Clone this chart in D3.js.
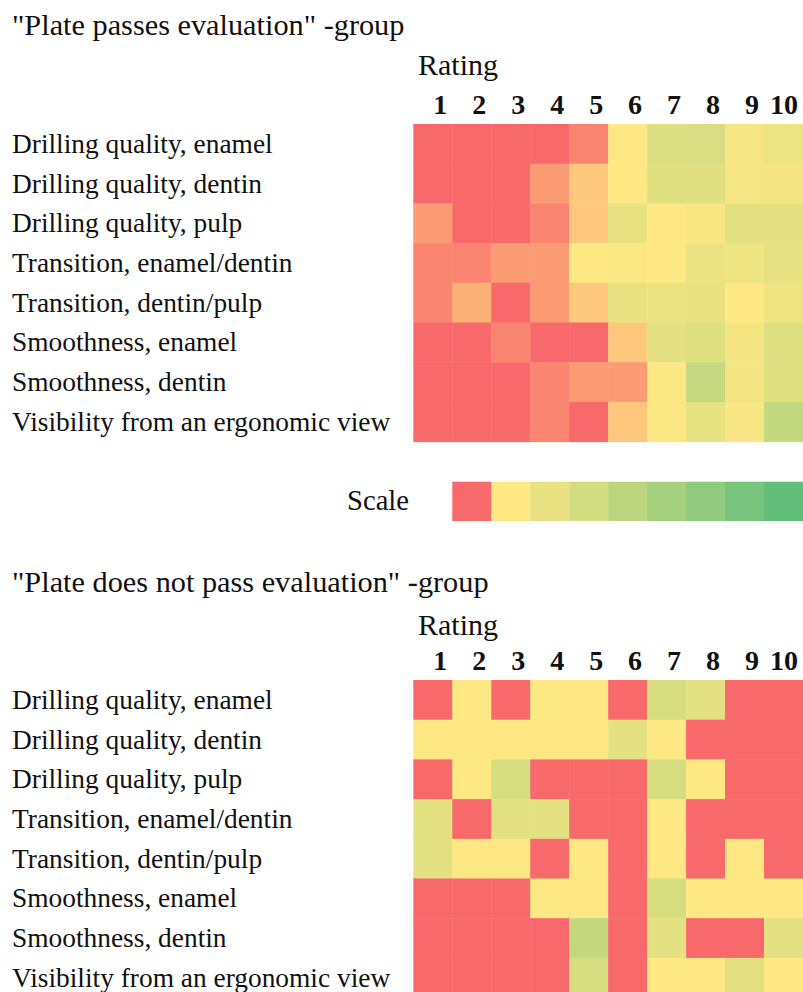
<!DOCTYPE html>
<html>
<head>
<meta charset="utf-8">
<script src="https://cdn.jsdelivr.net/npm/d3@7"></script>
<style>
  body { margin: 0; background: #fff; }
  text { font-family: "Liberation Serif", "Times New Roman", serif; fill: #111; }
</style>
</head>
<body>
<div id="chart"></div>
<script>
// Rows (criteria) and columns (ratings)
var criteria = [
  "Drilling quality, enamel",
  "Drilling quality, dentin",
  "Drilling quality, pulp",
  "Transition, enamel/dentin",
  "Transition, dentin/pulp",
  "Smoothness, enamel",
  "Smoothness, dentin",
  "Visibility from an ergonomic view"
];
var ratings = [1, 2, 3, 4, 5, 6, 7, 8, 9, 10];

// Cell values (0 = red, 1 = yellow, up to 8 = green)
var passValues = [
  [0, 0, 0, 0, 0.22, 1, 2.55, 2.7, 1.35, 1.8],
  [0, 0, 0, 0.39, 0.75, 1, 2.35, 2.35, 1.4, 1.45],
  [0.39, 0, 0, 0.22, 0.75, 2.0, 1, 1.27, 2.2, 2.2],
  [0.22, 0.22, 0.39, 0.39, 1, 1.15, 1, 1.85, 1.7, 2.1],
  [0.22, 0.56, 0, 0.39, 0.75, 2.0, 1.85, 2.0, 1, 1.7],
  [0, 0, 0.22, 0, 0, 0.75, 2.2, 2.4, 1.45, 2.45],
  [0, 0, 0, 0.22, 0.39, 0.39, 1.15, 3.5, 1.45, 2.35],
  [0, 0, 0, 0.22, 0, 0.75, 1.2, 2.05, 1.3, 3.6]
];
var failValues = [
  [0, 1, 0, 1, 1, 0, 2.8, 2.2, 0, 0],
  [1, 1, 1, 1, 1, 2.2, 1, 0, 0, 0],
  [0, 1, 2.8, 0, 0, 0, 2.8, 1, 0, 0],
  [2.2, 0, 2.2, 2.2, 0, 0, 1, 0, 0, 0],
  [2.2, 1, 1, 0, 1, 0, 1, 0, 1, 0],
  [0, 0, 0, 1, 1, 0, 2.8, 1, 1, 1],
  [0, 0, 0, 0, 3.6, 0, 2.2, 0, 0, 2.2],
  [0, 0, 0, 0, 2.8, 0, 1, 1, 2.2, 1]
];
// Legend steps (placed under ratings 2..10)
var scaleValues = [0, 1, 2, 3, 4, 5, 6, 7, 8];
var scaleRatings = [2, 3, 4, 5, 6, 7, 8, 9, 10];

var width = 803, height = 992;

var svg = d3.select("#chart").append("svg")
  .attr("width", width)
  .attr("height", height);

// Red - yellow - green colour scale
var color = d3.scaleLinear()
  .domain([0, 1, 8])
  .range(["#F8696B", "#FEE883", "#63BE7B"]);

// Columns
var x = d3.scaleBand()
  .domain(ratings)
  .range([413.3, 803])
  .padding(0);

function drawGroup(title, values, top) {
  var g = svg.append("g");

  var y = d3.scaleBand()
    .domain(criteria)
    .range([top.grid, top.grid + 39.7 * criteria.length])
    .padding(0);

  // Group title
  g.append("text")
    .attr("x", 12)
    .attr("y", top.title)
    .style("font-size", "30.3px")
    .text(title);

  g.append("text")
    .attr("x", 418)
    .attr("y", top.rating)
    .style("font-size", "30px")
    .text("Rating");

  // Rating numbers, right aligned in their column
  g.selectAll(".rating-num")
    .data(ratings)
    .enter()
    .append("text")
    .attr("class", "rating-num")
    .attr("x", function(d) { return x(d) + x.bandwidth() - 5; })
    .attr("y", top.numbers)
    .attr("text-anchor", "end")
    .style("font-size", "28px")
    .style("font-weight", "bold")
    .text(function(d) { return d; });

  // Row labels
  g.selectAll(".row-label")
    .data(criteria)
    .enter()
    .append("text")
    .attr("class", "row-label")
    .attr("x", 12)
    .attr("y", function(d) { return y(d) + y.bandwidth() / 2; })
    .attr("dy", "0.33em")
    .style("font-size", "27.4px")
    .text(function(d) { return d; });

  // Cells
  var cells = [];
  values.forEach(function(row, i) {
    row.forEach(function(v, j) {
      cells.push({ row: criteria[i], col: ratings[j], value: v });
    });
  });

  g.selectAll(".cell")
    .data(cells)
    .enter()
    .append("rect")
    .attr("class", "cell")
    .attr("x", function(d) { return x(d.col); })
    .attr("y", function(d) { return y(d.row); })
    .attr("width", x.bandwidth() + 0.5)
    .attr("height", y.bandwidth() + 0.5)
    .style("fill", function(d) { return color(d.value); });
}

drawGroup("\"Plate passes evaluation\" -group", passValues,
  { title: 35, rating: 75, numbers: 114, grid: 124 });

/////////////////////// Scale legend ///////////////////////
svg.append("text")
  .attr("x", 409)
  .attr("y", 510)
  .attr("text-anchor", "end")
  .style("font-size", "28.6px")
  .text("Scale");

svg.selectAll(".scale-cell")
  .data(scaleValues)
  .enter()
  .append("rect")
  .attr("class", "scale-cell")
  .attr("x", function(d, i) { return x(scaleRatings[i]); })
  .attr("y", 481.7)
  .attr("width", x.bandwidth() + 0.5)
  .attr("height", 39.3)
  .style("fill", function(d) { return color(d); });

drawGroup("\"Plate does not pass evaluation\" -group", failValues,
  { title: 591.7, rating: 635, numbers: 670, grid: 680 });
</script>
</body>
</html>
